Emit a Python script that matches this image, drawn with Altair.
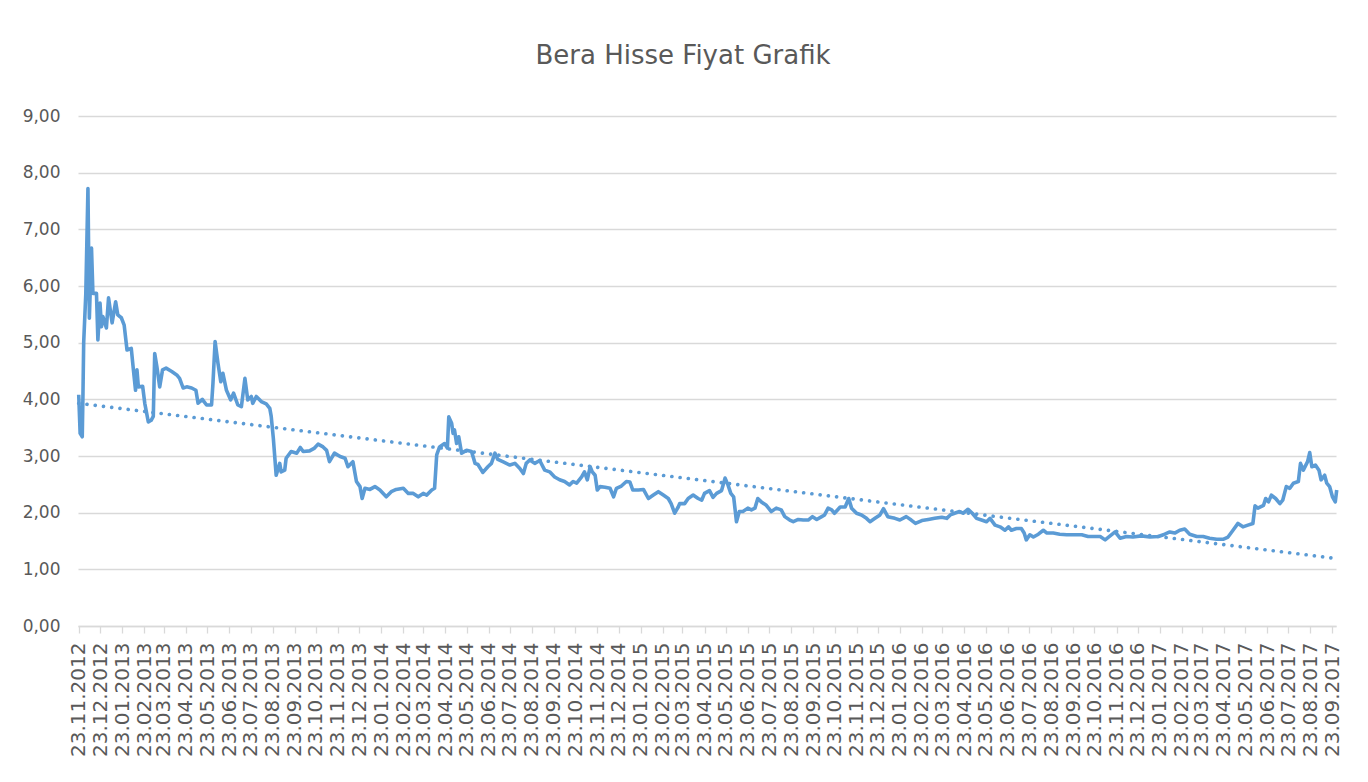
import altair as alt
import pandas as pd

# days since 23.11.2012 and closing price (TL)
days = [0, 2, 5, 6, 7, 10, 13, 15, 18, 20, 25, 27, 30, 32, 34, 39, 42, 47, 52, 55,
        60, 64, 68, 74, 77, 80, 82, 84, 90, 93, 98, 102, 105, 107, 110, 114, 118, 123, 131, 138,
        142, 147, 152, 159, 165, 168, 174, 180, 187, 189, 192, 196, 200, 203, 208, 214, 218, 224, 229, 234,
        238, 243, 245, 250, 257, 264, 269, 271, 274, 278, 283, 285, 290, 292, 299, 307, 312, 316, 325, 332,
        337, 344, 349, 353, 360, 368, 375, 379, 386, 391, 396, 399, 403, 410, 417, 424, 433, 440, 447, 457,
        464, 471, 478, 485, 490, 497, 501, 504, 508, 515, 519, 521, 525, 527, 529, 532, 535, 539, 546, 553,
        558, 562, 569, 576, 581, 586, 590, 597, 607, 614, 621, 626, 630, 635, 642, 649, 656, 663, 670, 677,
        684, 691, 696, 701, 708, 712, 716, 720, 723, 727, 730, 734, 741, 748, 753, 757, 764, 771, 776, 780,
        788, 795, 802, 809, 816, 823, 830, 834, 839, 844, 846, 853, 858, 865, 872, 877, 881, 888, 893, 898,
        905, 910, 914, 918, 922, 926, 930, 935, 942, 947, 952, 956, 961, 968, 975, 982, 989, 994, 1001, 1006,
        1013, 1020, 1027, 1033, 1039, 1046, 1050, 1055, 1060, 1064, 1072, 1079, 1084, 1088, 1095, 1102, 1109, 1114, 1121, 1128,
        1133, 1139, 1149, 1156, 1165, 1172, 1178, 1187, 1196, 1205, 1215, 1222, 1227, 1233, 1240, 1245, 1252, 1258, 1264, 1271,
        1278, 1283, 1290, 1297, 1304, 1309, 1313, 1320, 1327, 1331, 1334, 1339, 1344, 1351, 1358, 1363, 1372, 1381, 1391, 1402,
        1412, 1421, 1431, 1438, 1445, 1452, 1459, 1466, 1475, 1484, 1496, 1508, 1520, 1529, 1536, 1543, 1550, 1557, 1564, 1574,
        1583, 1592, 1602, 1611, 1618, 1625, 1632, 1639, 1646, 1653, 1656, 1660, 1668, 1671, 1675, 1679, 1685, 1691, 1695, 1700,
        1705, 1710, 1717, 1720, 1724, 1730, 1733, 1736, 1741, 1746, 1749, 1754, 1757, 1761, 1765, 1769, 1771]
prices = [4.08, 3.40, 3.34, 4.10, 5.00, 5.87, 7.72, 5.43, 6.67, 5.87, 5.87, 5.05, 5.70, 5.28, 5.46, 5.26, 5.79, 5.35, 5.72, 5.49,
          5.44, 5.31, 4.87, 4.90, 4.52, 4.16, 4.52, 4.22, 4.23, 3.93, 3.60, 3.63, 3.70, 4.81, 4.58, 4.22, 4.52, 4.55, 4.49, 4.43,
          4.37, 4.20, 4.22, 4.20, 4.16, 3.93, 4.00, 3.90, 3.90, 4.28, 5.02, 4.64, 4.31, 4.46, 4.16, 3.99, 4.11, 3.90, 3.87, 4.37,
          3.99, 4.05, 3.93, 4.05, 3.96, 3.92, 3.84, 3.70, 3.31, 2.66, 2.87, 2.72, 2.75, 2.96, 3.08, 3.05, 3.15, 3.08, 3.09, 3.14,
          3.21, 3.16, 3.10, 2.90, 3.05, 2.99, 2.96, 2.81, 2.90, 2.55, 2.46, 2.25, 2.43, 2.41, 2.46, 2.40, 2.28, 2.37, 2.41, 2.43,
          2.34, 2.34, 2.28, 2.34, 2.31, 2.40, 2.43, 3.02, 3.16, 3.22, 3.14, 3.69, 3.58, 3.40, 3.46, 3.22, 3.34, 3.05, 3.10, 3.08,
          2.87, 2.85, 2.71, 2.81, 2.87, 3.05, 2.94, 2.90, 2.84, 2.87, 2.78, 2.69, 2.87, 2.93, 2.87, 2.92, 2.75, 2.72, 2.63, 2.58,
          2.55, 2.49, 2.55, 2.52, 2.63, 2.72, 2.58, 2.81, 2.72, 2.66, 2.40, 2.46, 2.45, 2.43, 2.28, 2.43, 2.47, 2.55, 2.54, 2.40,
          2.40, 2.41, 2.25, 2.31, 2.37, 2.31, 2.25, 2.16, 1.99, 2.10, 2.16, 2.16, 2.25, 2.31, 2.25, 2.22, 2.34, 2.39, 2.27, 2.34,
          2.39, 2.61, 2.49, 2.34, 2.28, 1.84, 2.02, 2.02, 2.08, 2.05, 2.08, 2.25, 2.19, 2.13, 2.02, 2.08, 2.05, 1.93, 1.87, 1.84,
          1.88, 1.87, 1.87, 1.93, 1.88, 1.93, 1.96, 2.08, 2.05, 1.99, 2.10, 2.10, 2.25, 2.08, 1.99, 1.96, 1.90, 1.84, 1.90, 1.96,
          2.07, 1.93, 1.90, 1.87, 1.93, 1.87, 1.81, 1.86, 1.88, 1.90, 1.92, 1.90, 1.96, 1.99, 2.02, 1.99, 2.06, 1.99, 1.90, 1.87,
          1.84, 1.90, 1.78, 1.75, 1.69, 1.75, 1.69, 1.72, 1.72, 1.64, 1.52, 1.61, 1.57, 1.62, 1.69, 1.64, 1.64, 1.62, 1.61, 1.61,
          1.61, 1.58, 1.58, 1.58, 1.52, 1.59, 1.66, 1.55, 1.58, 1.57, 1.59, 1.57, 1.58, 1.62, 1.66, 1.64, 1.69, 1.71, 1.62, 1.58,
          1.58, 1.55, 1.53, 1.53, 1.57, 1.69, 1.81, 1.75, 1.78, 1.81, 2.12, 2.08, 2.13, 2.25, 2.19, 2.31, 2.25, 2.16, 2.22, 2.46,
          2.43, 2.52, 2.55, 2.87, 2.75, 2.90, 3.06, 2.81, 2.84, 2.75, 2.58, 2.66, 2.52, 2.46, 2.28, 2.19, 2.40]

# linear trendline end points
trend_days = [0, 1771]
trend_values = [3.93, 1.19]

start = pd.Timestamp("2012-11-23")
def to_dates(ds):
    return [(start + pd.Timedelta(days=d)).strftime("%Y-%m-%dT%H:%M:%S") for d in ds]

df = pd.DataFrame({"date": to_dates(days), "price": prices})
tdf = pd.DataFrame({"date": to_dates(trend_days), "price": trend_values})

# monthly tick dates (23rd of each month)
tick_dates = [alt.DateTime(year=ts.year, month=ts.month, date=23)
              for ts in pd.date_range("2012-11-01", "2017-09-01", freq="MS")]

xscale = alt.Scale(domain=[alt.DateTime(year=2012, month=11, date=22),
                           alt.DateTime(year=2017, month=9, date=28)], nice=False)
yscale = alt.Scale(domain=[0, 9], nice=False)

xaxis = alt.Axis(values=tick_dates, format="%d.%m.%Y", labelAngle=-90, title=None,
                 grid=False, domainColor="#d9d9d9", domainWidth=1.5,
                 tickColor="#d9d9d9", tickSize=7, tickWidth=1.3,
                 labelFont="DejaVu Sans", labelFontSize=20, labelColor="#595959",
                 labelPadding=9, labelOverlap=False, labelSeparation=0,
                 labelBound=False, labelFlush=False)
yaxis = alt.Axis(values=list(range(10)),
                 labelExpr="replace(format(datum.value, '.2f'), '.', ',')",
                 title=None, domain=False, ticks=False, grid=True,
                 gridColor="#d9d9d9", gridWidth=1.4,
                 labelFont="DejaVu Sans", labelFontSize=17, labelColor="#595959",
                 labelPadding=18)

line = alt.Chart(df).mark_line(color="#5B9BD5", strokeWidth=3.6, strokeJoin="round").encode(
    x=alt.X("date:T", scale=xscale, axis=xaxis),
    y=alt.Y("price:Q", scale=yscale, axis=yaxis),
)

trend = alt.Chart(tdf).mark_line(color="#5B9BD5", strokeWidth=3.6, strokeDash=[0.1, 8.2],
                                 strokeCap="round").encode(
    x=alt.X("date:T", scale=xscale, axis=xaxis),
    y=alt.Y("price:Q", scale=yscale, axis=yaxis),
)

chart = alt.layer(line, trend).properties(
    width=1258, height=510,
    title=alt.TitleParams("Bera Hisse Fiyat Grafik", font="DejaVu Sans", fontSize=26,
                          fontWeight="normal", color="#595959", offset=38,
                          anchor="middle", frame="bounds"),
    padding={"left": 14, "top": 35, "right": 10, "bottom": 5},
).configure_view(stroke=None).configure_axis(labelOverlap=False).configure_axisX(labelOverlap=False)

chart.save("out.html", embed_options={"renderer": "svg", "actions": False})
